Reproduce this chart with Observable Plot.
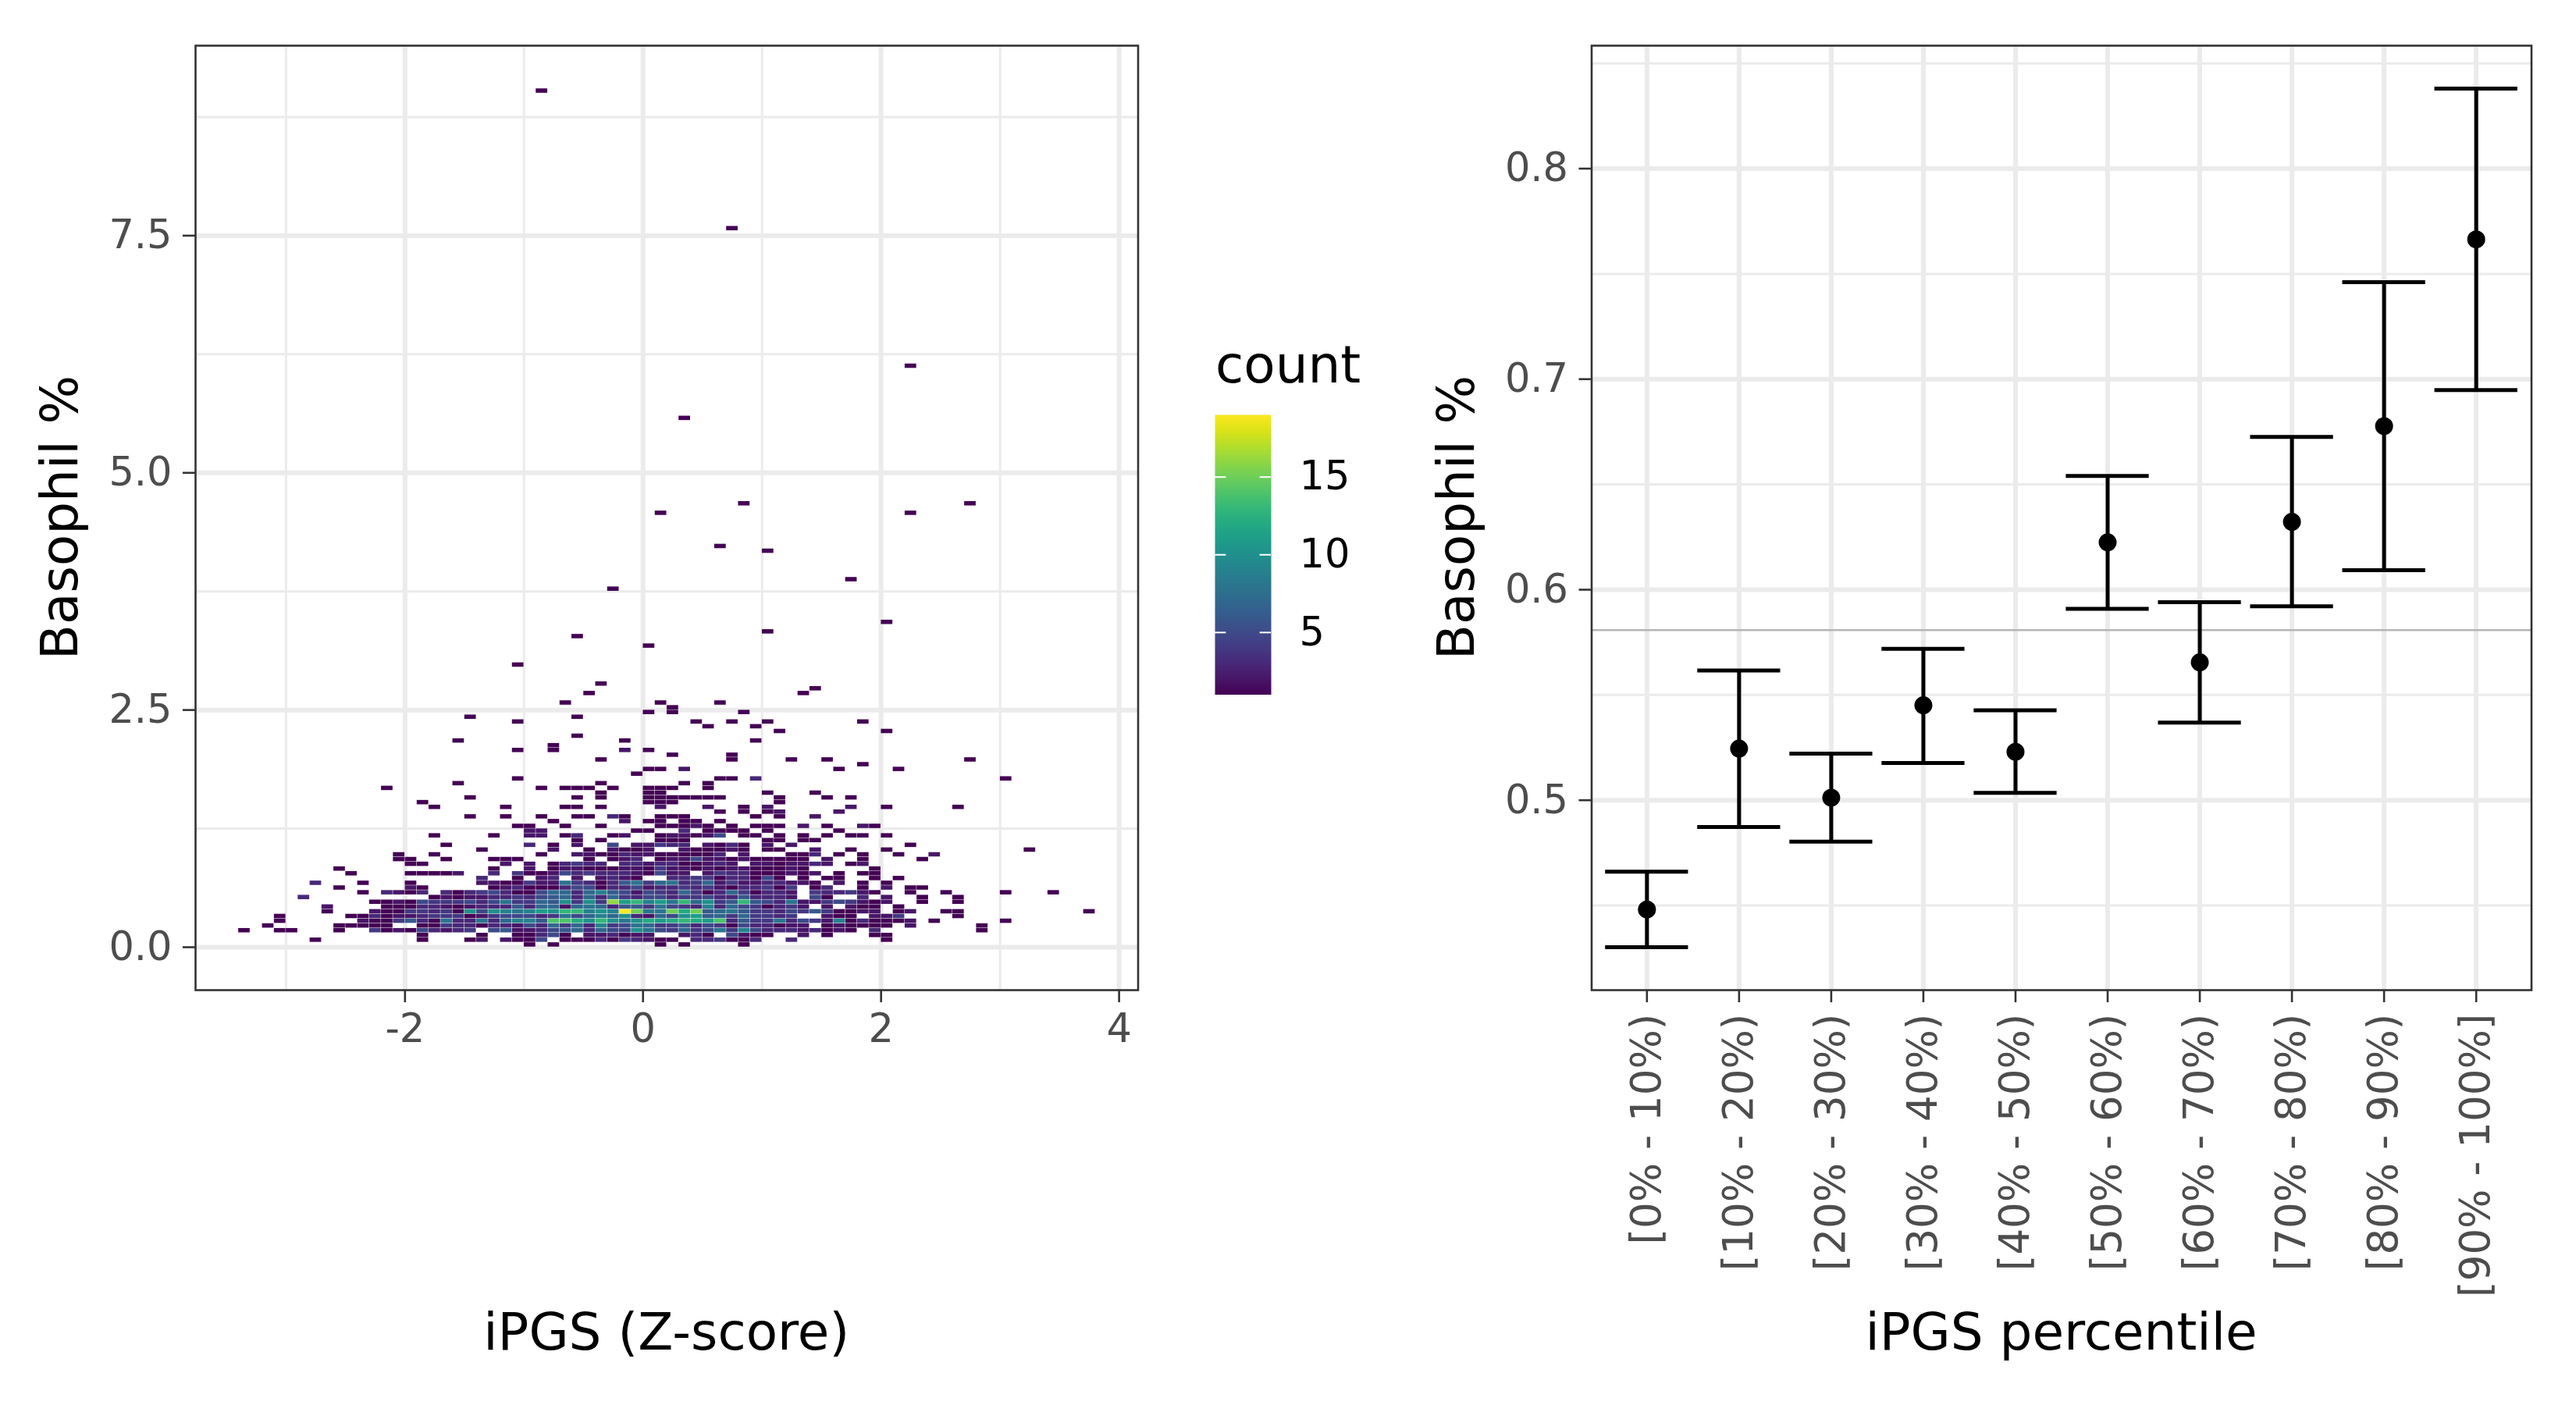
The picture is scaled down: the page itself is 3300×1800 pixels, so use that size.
<!DOCTYPE html>
<html>
<head>
<meta charset="utf-8">
<script src="https://cdn.jsdelivr.net/npm/d3@7"></script>
<script src="https://cdn.jsdelivr.net/npm/@observablehq/plot@0.6"></script>
<style>
  html, body { margin: 0; padding: 0; background: #fff; }
  body { width: 3300px; height: 1800px; position: relative; overflow: hidden; font-family: "DejaVu Sans", sans-serif; }
  .panel { position: absolute; top: 0; }
  svg { overflow: visible; }
</style>
</head>
<body>
<div id="left" class="panel" style="left:0px"></div>
<div id="legend" class="panel" style="left:1500px"></div>
<div id="right" class="panel" style="left:1500px"></div>
<div id="titles" class="panel" style="left:0px"></div>
<script>
// ---------------- Left panel: 2D bin counts (bin width 0.1 in x, 0.05 in y) ----------------
const binW = 0.1;
const binH = 0.05;
// row index (y bin) and the filled x bins in that row as "xbin:count" (count 1 if omitted)
const rowIndex = [0,1,2,3,4,5,6,7,8,9,10,11,12,13,14,15,16,17,18,19,20,21,22,23,24,25,26,27,28,29,30,31,32,33,34,35,36,37,38,39,40,41,42,43,44,45,46,47,48,49,50,51,53,54,55,59,63,65,66,68,75,77,83,84,91,93,111,122,151,180];
const rowCells = [
  "-10 -8 1 3 8",
  "-28 -19 -15 -14:2 -12:2 -11 -10 -9:5 -7 -6 -5 -4:3 -3 -2:4 -1:3 0:2 1 2 4:3 5:3 6:4 7 8 9:3 12:3 20",
  "-19 -14 -11 -10 -9:3 -8:5 -7 -5:2 -4:2 -3:3 -2 -1:2 0:2 3:2 4:3 5 7:5 8:2 9 10 13:2 15 19 20",
  "-34 -31 -30 -26 -23:4 -22 -21:2 -20 -19:5 -18:3 -17:2 -16:3 -15:4 -13:5 -12:6 -11:2 -10:2 -9:3 -8:5 -7:6 -6:7 -5:3 -4:7 -3:5 -2:5 -1:10 0:8 1:5 2:4 3:7 4:4 5:5 6:8 7:4 8:9 9:5 10:3 11:3 12:3 13:2 14:3 15 16:2 17 19:3 28",
  "-32 -26 -25 -24 -23 -22 -19 -18 -17:4 -16:3 -15:3 -14 -13:3 -12:3 -11:2 -10:5 -9:3 -8:7 -7:4 -6:7 -5:3 -4:9 -3:4 -2:5 -1:8 0:7 1:4 2:4 3:6 4:3 5:5 6:4 7 8:5 9:3 10:3 11 12:2 13:2 15 16:2 17 18 19 20 22:2 28",
  "-31 -24:2 -23 -22 -21:4 -20:6 -19:3 -18 -17:8 -16:3 -15:3 -14:8 -13:3 -12:7 -11:9 -10:9 -9:6 -8:14 -7:14 -6:12 -5:10 -4:13 -3:10 -2:8 -1:10 0:12 1:11 2:12 3:13 4:12 5:11 6:14 7:3 8:6 9:4 10:4 11:8 12:3 13:5 14:4 15:2 16:9 17 18:3 19 20 21 22:2 24 30",
  "-31 -25 -24 -23:3 -22 -21:2 -20:2 -19:3 -18:4 -17:4 -16:4 -15 -14:2 -13:4 -12:5 -11:5 -10:5 -9:3 -8:4 -7:8 -6:5 -5:7 -4:9 -3:7 -2:10 -1:3 0:2 1:7 2:5 3:10 4:11 5:6 6:7 7:4 8:7 9:4 10:4 11:3 12:4 15:2 16 17 19:2 20:2 21:4 26",
  "-27 -23:2 -22 -21 -20:4 -19:4 -18:3 -17:4 -16 -15:10 -14:5 -13:10 -12:9 -11:8 -10:9 -9:11 -8:10 -7:13 -6:13 -5:9 -4:10 -3:9 -2:19 -1:15 0:8 1:8 2:15 3:12 4:15 5:6 6:7 7:8 8:6 9:4 10:4 11:3 12:5 13:4 14:6 15:4 16 17 18:2 19:2 21 22:2 25 26 37",
  "-27:2 -22 -21 -20 -19:3 -18:3 -17:2 -16 -15:2 -14:3 -13:3 -12:3 -11:6 -10:3 -9:7 -8:7 -7:2 -6:7 -5:8 -4:7 -3:3 -2:6 -1:6 0:4 1:8 2:5 3:4 4:3 5:9 6:3 7:7 8:5 9:4 10 11:3 12:4 13:2 15:2 17:2 18 19 21",
  "-23 -22 -21:2 -20 -19:5 -18:4 -17:4 -16:4 -15:5 -14:3 -13:5 -12:8 -11:4 -10:4 -9:7 -8:6 -7:10 -6:4 -5:10 -4:4 -3:16 -2:11 -1:13 0:9 1:11 2:8 3:13 4:7 5:10 6:4 7:6 8:13 9:6 10:5 11:3 12:8 13:2 14:2 15:4 16:5 17:4 18:2 19 20:2 23 26",
  "-29:3 -18 -17:2 -16 -15:2 -14:2 -13:3 -12:3 -11:4 -10:3 -9:5 -8:6 -7:7 -6:3 -5:7 -4:3 -3:7 -2:4 -1:3 0:5 1:5 2:3 3:4 4:4 5:5 6:3 7:3 8:6 9:3 10:3 11:3 12:2 14:5 15 18:3 20:2 23 26",
  "-24 -22:3 -21:2 -20 -19:3 -17:3 -16 -15:3 -14:4 -13:5 -12:3 -11 -10 -9:5 -8:7 -7:7 -6:3 -5:7 -4:9 -3:6 -2:5 -1:2 0:5 1:4 2:3 3:7 4:4 5 6:3 7:7 8:4 9 10:3 11:3 12:2 14:4 15:3 16:3 17:4 18:2 19 22 25 30 34",
  "-26 -20:2 -19 -13 -12:2 -11:3 -10 -9 -8 -7:3 -6:5 -5:5 -4 -3:3 -2:3 -1:5 0:2 1:3 2:3 3:4 4:3 5:4 6:2 7 8:3 9:3 10:4 11 12:4 14 15:3 18 20:2 22 23",
  "-28:3 -24 -20 -14:2 -13:2 -12 -11 -10:4 -9:2 -8:2 -7:8 -6:4 -5:3 -4 -3:3 -2:6 -1:8 0:4 1:7 2:8 3:3 4:4 5:7 6:2 7:4 8:2 9:2 10:3 11:3 12:2 13:2 14 16:2 18 20",
  "-14:3 -11 -9:2 -8:3 -6:2 -4:2 -3:3 -2:2 -1 2:3 3:3 4:4 5:4 6 7:3 8:3 9 10:5 11 13 15 16 19 21",
  "-25 -20 -19 -18 -17 -16:2 -13:3 -11:4 -10 -9 -8:2 -7:5 -6:3 -5:4 -4:3 -3:3 -2:3 -1:2 0 1:5 2:2 3:2 5:2 6:4 7:3 8:3 9 10 11 12:2 13 14:2 16 18 19",
  "-26 -13 -10:2 -8 -7:2 -6:2 -5 -4 -3 -2:2 -1:2 0 1:4 2:2 3:2 4 5:2 6 7:2 8:2 9 10 11 12:2 13 19",
  "-20 -19 -12:2 -10:2 -8 -7:3 -6:4 -5:3 -4:3 -2:3 -1:3 0:2 1:3 2:3 3 4 5:2 6:3 7:2 9:2 10:2 11 12:2 13:2 14:3 15:2 17 18:2",
  "-21 -20 -17 -13 -12 -11 -5 -3 -2:2 -1:3 1 2:2 3:2 4:5 5:2 6:2 7 8:2 9 10 11 12 13 15:2 18 23",
  "-21 -18 -9 -6:2 -5:2 -4 -3 -2:3 -1:2 0:2 1 2 3 4 5 6:3 8:2 12 13 14:3 16 18 21 24:2",
  "-14 -8:2 -5 -3:2 -2 -1 0:2 3:2 4 5 6 7:2 8 10 11 14:2 17 20 32",
  "-17 -10:3 -8 -6:2 -3:5 -1:2 0:2 1:4 2:3 3:3 5:2 6 7:3 8 10:2 12:2 22",
  "-6 -4 1 2 3 10 11 13 14",
  "-18 -13 -10:2 -9:2 -7 -6:3 -3 -2:2 1 2:2 3:2 4 5:2 6:5 8 9 11 13 15 17 18 20",
  "-10:2 -9:2 -1 0 3:3 5 6 7 8 10 16",
  "-11 -10 -7 -4 1 2 3 4:2 5 7 9 10 11 13:2 15 18:2 19",
  "-8 -2:2 0 1 3 4 6",
  "-15 -12 -9 -6 -5 -3:3 -2 1 2 3 9 11 14:2",
  "6 8 10 11:2 16:2",
  "-18 -12 -7 -6 -4 1:2 5:2 8 10:2 17:2 20 26",
  "-19 0 1 2 11",
  "-15 -6 -4 0 1 2 3 4 5 6 11 15 17",
  "-4 0 1 10 14",
  "-22 -9 -7 -6 -5 -3 0 1 2 5",
  "-16 -4 3 5",
  "-11 6 7 9:3 30",
  "-1",
  "0 1 3:2 16 21",
  "18",
  "-4 7 12 15 27",
  "2 7",
  "-11 -8 -2:2 0",
  "-8",
  "-16 -2 9",
  "-6",
  "11 20",
  "5 9",
  "-11 4 7 10 18",
  "-15 -6",
  "0 2 8",
  "2",
  "-7 1 6",
  "-5 13",
  "14",
  "-4",
  "-11",
  "0",
  "-6",
  "10",
  "20",
  "-3",
  "17",
  "10",
  "6",
  "1 22",
  "8 27",
  "3",
  "22",
  "7",
  "-9"
];
const zTicks = [-2, 0, 2, 4];
const zMinor = [-3, -1, 1, 3];
const basoTicksL = [0, 2.5, 5, 7.5];
const basoMinorL = [1.25, 3.75, 6.25, 8.75];
const countTicks = [5, 10, 15];

// ---------------- Right panel: mean and CI per percentile bin ----------------
const percentileBins = ["[0% - 10%)", "[10% - 20%)", "[20% - 30%)", "[30% - 40%)", "[40% - 50%)",
                        "[50% - 60%)", "[60% - 70%)", "[70% - 80%)", "[80% - 90%)", "[90% - 100%]"];
const meanBaso  = [0.4481, 0.5245, 0.5012, 0.5451, 0.5230, 0.6225, 0.5655, 0.6322, 0.6777, 0.7664];
const lowerBaso = [0.4302, 0.4873, 0.4803, 0.5177, 0.5035, 0.5909, 0.5369, 0.5921, 0.6093, 0.6948];
const upperBaso = [0.4661, 0.5616, 0.5221, 0.5719, 0.5427, 0.6540, 0.5941, 0.6726, 0.7461, 0.8380];
const overallMean = 0.5808;
const basoTicksR = [0.5, 0.6, 0.7, 0.8];
const basoMinorR = [0.45, 0.55, 0.65, 0.75, 0.85];

// ---------------- build tables ----------------
const cells = [];
rowIndex.forEach((j, r) => {
  rowCells[r].split(" ").forEach(tok => {
    const parts = tok.split(":").map(Number);
    const i = parts[0];
    const c = parts.length > 1 ? parts[1] : 1;
    cells.push({x1: i * binW, x2: (i + 1) * binW, y1: j * binH, y2: (j + 1) * binH, count: c});
  });
});
const pct = percentileBins.map((label, k) => ({
  pos: k + 1, label, mean: meanBaso[k], lower: lowerBaso[k], upper: upperBaso[k]
}));

const FONT = "DejaVu Sans";
const TICK_FS = 51;
const ROT_FS = 53;
const GRID = "#ebebeb";
const BORDER = "#333333";
const TICK_TEXT = "#4d4d4d";
const LW = 2.6;
const TSIZE = 16;
const TPAD = 14;

// ---------------- Left plot ----------------
const leftPlot = Plot.plot({
  width: 1500, height: 1800,
  marginLeft: 250, marginRight: 1500 - 1457.5, marginTop: 58, marginBottom: 1800 - 1268,
  x: {domain: [-3.76, 4.16]},
  y: {domain: [-0.4525, 9.5025]},
  color: {type: "linear", scheme: "viridis", domain: [1, 19]},
  style: {fontFamily: FONT, background: "transparent"},
  marks: [
    Plot.gridX(zMinor, {stroke: GRID, strokeOpacity: 1, strokeWidth: 3}),
    Plot.gridY(basoMinorL, {stroke: GRID, strokeOpacity: 1, strokeWidth: 3}),
    Plot.gridX(zTicks, {stroke: GRID, strokeOpacity: 1, strokeWidth: 6}),
    Plot.gridY(basoTicksL, {stroke: GRID, strokeOpacity: 1, strokeWidth: 6}),
    Plot.rect(cells, {x1: "x1", x2: "x2", y1: "y1", y2: "y2", fill: "count", inset: 0.25}),
    Plot.frame({stroke: BORDER, strokeWidth: LW}),
    Plot.axisX(zTicks, {tickSize: TSIZE, tickPadding: TPAD, fontSize: TICK_FS, stroke: BORDER, strokeWidth: LW, fill: TICK_TEXT, label: null, tickFormat: d => String(d)}),
    Plot.axisY(basoTicksL, {tickSize: TSIZE, tickPadding: TPAD, fontSize: TICK_FS, stroke: BORDER, strokeWidth: LW, fill: TICK_TEXT, label: null, tickFormat: d3.format(".1f")})
  ]
});
document.getElementById("left").append(leftPlot);

// ---------------- Legend (colour bar) ----------------
const legendPlot = Plot.plot({
  width: 300, height: 1800,
  marginLeft: 56, marginRight: 300 - 128, marginTop: 531, marginBottom: 1800 - 889.5,
  x: {domain: [0, 1], axis: null},
  y: {domain: [1, 19]},
  color: {type: "linear", scheme: "viridis", domain: [1, 19]},
  style: {fontFamily: FONT, background: "transparent"},
  marks: [
    Plot.raster({fill: (x, y) => y, x1: 0, x2: 1, y1: 1, y2: 19, width: 2, height: 360, imageRendering: "auto"}),
    Plot.ruleY(countTicks, {x1: 0, x2: 0.2, stroke: "white", strokeWidth: 2}),
    Plot.ruleY(countTicks, {x1: 0.8, x2: 1, stroke: "white", strokeWidth: 2}),
    Plot.axisY(countTicks, {anchor: "right", tickSize: 0, tickPadding: 36, fontSize: TICK_FS, fill: "black", label: null})
  ]
});
document.getElementById("legend").append(legendPlot);

// ---------------- Right plot ----------------
const rightPlot = Plot.plot({
  width: 1800, height: 1800,
  marginLeft: 2038.5 - 1500, marginRight: 1800 - (3242.5 - 1500), marginTop: 58, marginBottom: 1800 - 1268,
  x: {domain: [0.4, 10.6]},
  y: {domain: [0.4098, 0.8584]},
  style: {fontFamily: FONT, background: "transparent"},
  marks: [
    Plot.gridY(basoMinorR, {stroke: GRID, strokeOpacity: 1, strokeWidth: 3}),
    Plot.gridY(basoTicksR, {stroke: GRID, strokeOpacity: 1, strokeWidth: 6}),
    Plot.gridX(pct.map(d => d.pos), {stroke: GRID, strokeOpacity: 1, strokeWidth: 6}),
    Plot.ruleY([overallMean], {stroke: "#b5b5b5", strokeWidth: 2.5}),
    Plot.ruleX(pct, {x: "pos", y1: "lower", y2: "upper", stroke: "black", strokeWidth: 5}),
    Plot.ruleY(pct, {y: "upper", x1: d => d.pos - 0.45, x2: d => d.pos + 0.45, stroke: "black", strokeWidth: 5}),
    Plot.ruleY(pct, {y: "lower", x1: d => d.pos - 0.45, x2: d => d.pos + 0.45, stroke: "black", strokeWidth: 5}),
    Plot.dot(pct, {x: "pos", y: "mean", r: 11.5, fill: "black", stroke: null}),
    Plot.frame({stroke: BORDER, strokeWidth: LW}),
    Plot.axisY(basoTicksR, {tickSize: TSIZE, tickPadding: TPAD, fontSize: TICK_FS, stroke: BORDER, strokeWidth: LW, fill: TICK_TEXT, label: null, tickFormat: d3.format(".1f")}),
    Plot.axisX(pct.map(d => d.pos), {tickSize: TSIZE, tickPadding: TPAD, fontSize: ROT_FS, stroke: BORDER, strokeWidth: LW, fill: TICK_TEXT, label: null,
      tickRotate: -90, textAnchor: "end", tickFormat: d => percentileBins[d - 1]})
  ]
});
document.getElementById("right").append(rightPlot);

// ---------------- Titles ----------------
const TITLE_FS = 66;
const svg = d3.select("#titles").append("svg").attr("width", 3300).attr("height", 1800)
  .style("font-family", FONT).style("pointer-events", "none");
function title(txt, x, y, rotate, anchor) {
  svg.append("text").attr("transform", `translate(${x},${y}) rotate(${rotate})`)
    .attr("text-anchor", anchor).attr("font-size", TITLE_FS).attr("fill", "black").text(txt);
}
title("Basophil %", 99, 663, -90, "middle");
title("Basophil %", 1888, 663, -90, "middle");
title("iPGS (Z-score)", 853.7, 1729, 0, "middle");
title("iPGS percentile", 2640.5, 1729, 0, "middle");
title("count", 1557, 490, 0, "start");
</script>
</body>
</html>
